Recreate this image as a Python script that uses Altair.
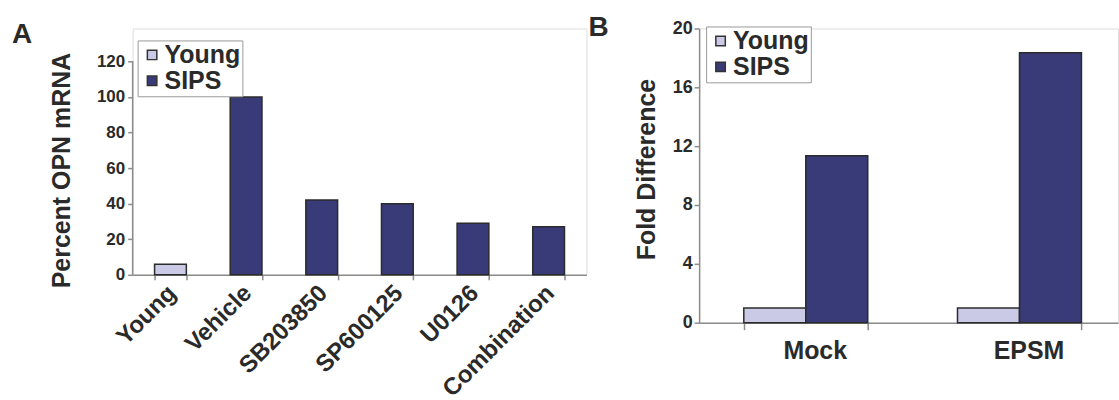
import altair as alt
import pandas as pd

# ---------------- data ----------------
a_categories = ["Young", "Vehicle", "SB203850", "SP600125", "U0126", "Combination"]
a_series = ["Young", "SIPS", "SIPS", "SIPS", "SIPS", "SIPS"]
a_values = [6, 100, 42, 40, 29, 27]
a_ticks = [0, 20, 40, 60, 80, 100, 120]

b_categories = ["Mock", "EPSM"]
series_names = ["Young", "SIPS"]
b_young = [1.0, 1.0]
b_sips = [11.35, 18.35]
b_ticks = [0, 4, 8, 12, 16, 20]

series_colors = ["#CBCAE6", "#393A78"]

FONT = "Liberation Sans"
TXT = "#2a2a2a"
AXC = "#8c8c8c"

# panel A's plot sits lower than panel B's: its view is taller than the 0-120 range
A_RANGE_H = 214          # pixels from 0 to 120
A_TOP_GAP = 33           # empty space above 120 inside the view
A_VIEW_H = A_RANGE_H + A_TOP_GAP
a_domain_max = a_ticks[-1] * A_VIEW_H / A_RANGE_H

dfA = pd.DataFrame({"Treatment": a_categories, "Series": a_series, "Value": a_values})
rowsB = []
for i, c in enumerate(b_categories):
    rowsB.append({"Condition": c, "Series": "Young", "Value": b_young[i]})
    rowsB.append({"Condition": c, "Series": "SIPS", "Value": b_sips[i]})
dfB = pd.DataFrame(rowsB)

color_scale = alt.Scale(domain=series_names, range=series_colors)

legend_common = dict(
    orient="none", title=None, symbolType="square", symbolSize=90,
    symbolStrokeColor="#333333", symbolStrokeWidth=1.5,
    labelFontSize=25, labelFont=FONT, labelFontWeight="bold", labelColor=TXT,
    strokeColor="#9a9a9a", padding=2, rowPadding=-6, labelOffset=0,
    cornerRadius=0, fillColor="white",
    labelExpr="datum.label + '\u00a0\u00a0\u00a0\u00a0'",
)

axis_common = dict(
    domainColor=AXC, tickColor=AXC, domainWidth=1.5, tickWidth=1.5,
    labelColor=TXT, labelFont=FONT, labelFontWeight="bold",
    titleColor=TXT, titleFont=FONT, titleFontWeight="bold", grid=False,
)

# ---------------- panel A ----------------
barsA = alt.Chart(dfA).mark_bar(stroke="#2b2b2b", strokeWidth=1.5).encode(
    x=alt.X("Treatment:N", sort=a_categories,
            scale=alt.Scale(paddingInner=0.58, paddingOuter=0.29),
            axis=alt.Axis(title=None, labelAngle=-45, labelFontSize=24,
                          tickBand="extent", tickSize=5, labelPadding=1,
                          labelOffset=-7, **axis_common)),
    y=alt.Y("Value:Q", scale=alt.Scale(domain=[0, a_domain_max], nice=False),
            axis=alt.Axis(values=a_ticks, title="Percent OPN mRNA", domain=False,
                          titleFontSize=25, labelFontSize=17, tickSize=5,
                          labelPadding=3, titlePadding=22, titleY=142,
                          **axis_common)),
    color=alt.Color("Series:N", scale=color_scale,
                    legend=alt.Legend(legendX=5, legendY=-21 + A_TOP_GAP, **legend_common)),
)
axisLineA = alt.Chart(pd.DataFrame({"v": [0]})).mark_rule(
    color=AXC, strokeWidth=1.5
).encode(x=alt.value(0), y=alt.datum(a_ticks[0]), y2=alt.datum(a_ticks[-1]))

letterA = alt.Chart(pd.DataFrame({"t": ["A"]})).mark_text(
    font=FONT, fontWeight="bold", fontSize=28, align="left", baseline="alphabetic", color=TXT
).encode(text="t:N", x=alt.value(-121), y=alt.value(-18 + A_TOP_GAP))

panelA = alt.layer(barsA, axisLineA, letterA).properties(width=455, height=A_VIEW_H)

# ---------------- panel B ----------------
barsB = alt.Chart(dfB).mark_bar(stroke="#2b2b2b", strokeWidth=1.5).encode(
    x=alt.X("Condition:N", sort=b_categories,
            scale=alt.Scale(paddingInner=0.42, paddingOuter=0.19, align=0.55),
            axis=alt.Axis(title=None, labelAngle=0, labelFontSize=25,
                          tickBand="extent", tickSize=7, labelPadding=9, labelOffset=9,
                          **axis_common)),
    xOffset=alt.XOffset("Series:N", sort=series_names,
                        scale=alt.Scale(paddingInner=0, paddingOuter=0)),
    y=alt.Y("Value:Q", scale=alt.Scale(domain=[0, 20], nice=False),
            axis=alt.Axis(values=b_ticks, title="Fold Difference",
                          titleFontSize=25, labelFontSize=18, tickSize=5,
                          labelPadding=2, titlePadding=13, titleY=141,
                          **axis_common)),
    color=alt.Color("Series:N", scale=color_scale,
                    legend=alt.Legend(legendX=7, legendY=-2, **legend_common)),
)
letterB = alt.Chart(pd.DataFrame({"t": ["B"]})).mark_text(
    font=FONT, fontWeight="bold", fontSize=28, align="left", baseline="alphabetic", color=TXT
).encode(text="t:N", x=alt.value(-111), y=alt.value(8))

panelB = alt.layer(barsB, letterB).properties(width=420, height=295)

chart = alt.hconcat(panelA, panelB, spacing=0).resolve_scale(
    color="independent"
).resolve_legend(color="independent").properties(
    padding={"left": 11, "top": 13, "right": 0, "bottom": 0}
).configure_view(stroke=None).configure(background="white")

chart.save("out.html", embed_options={"renderer": "svg", "actions": False})
